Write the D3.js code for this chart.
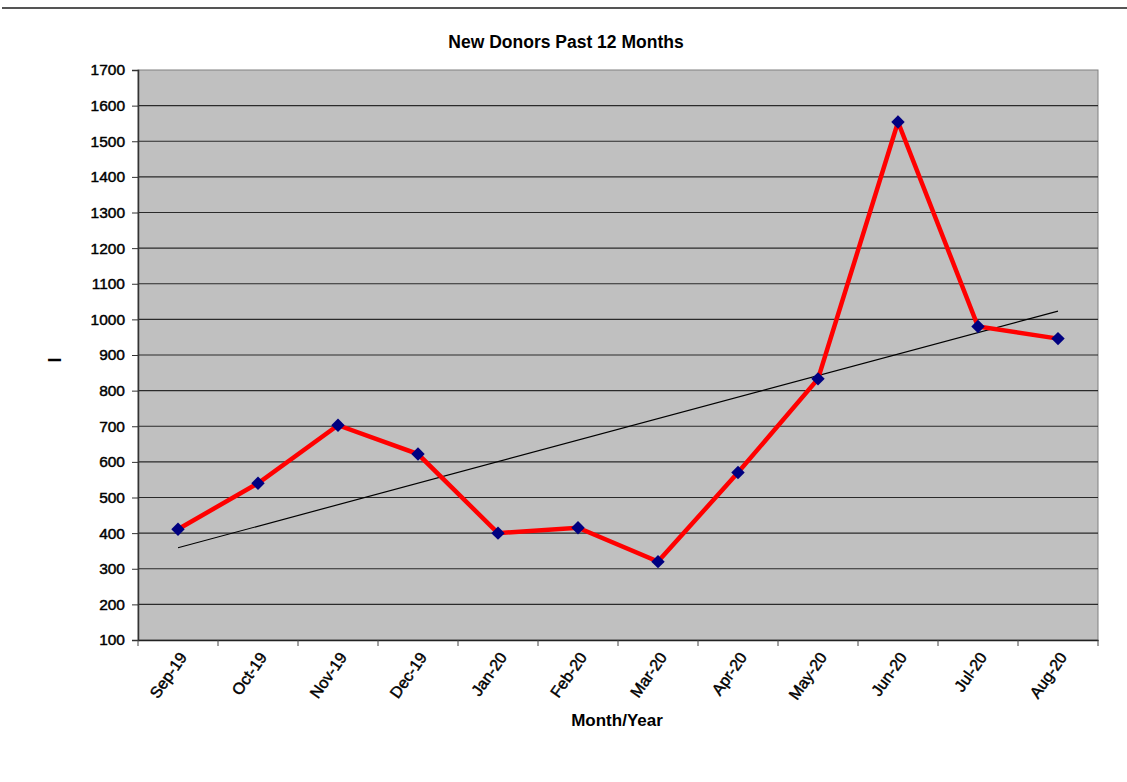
<!DOCTYPE html>
<html><head><meta charset="utf-8">
<script src="https://cdn.jsdelivr.net/npm/d3@7"></script>
<style>body{margin:0;background:#fff;}svg{display:block;font-family:"Liberation Sans",Arial,sans-serif;}</style>
</head><body>
<script>
const categories = ["Sep-19","Oct-19","Nov-19","Dec-19","Jan-20","Feb-20","Mar-20","Apr-20","May-20","Jun-20","Jul-20","Aug-20"];
const donors = [411, 540, 703, 622, 400, 415, 320, 570, 833, 1554, 980, 946];
const yTicks = [100,200,300,400,500,600,700,800,900,1000,1100,1200,1300,1400,1500,1600,1700];
const title = "New Donors Past 12 Months";
const xTitle = "Month/Year";
const yTitle = "I";

const W = 1127, H = 782;
const m = {left:138, right:1098, top:70, bottom:640};
const svg = d3.select("body").append("svg").attr("width",W).attr("height",H);

// top rule
svg.append("line").attr("x1",2).attr("x2",1127).attr("y1",8).attr("y2",8).attr("stroke","#555").attr("stroke-width",2);

const x = d3.scaleBand().domain(categories).range([m.left,m.right]).padding(0);
const y = d3.scaleLinear().domain([100,1700]).range([m.bottom,m.top]);

// plot background
svg.append("rect").attr("x",m.left).attr("y",m.top).attr("width",m.right-m.left).attr("height",m.bottom-m.top)
  .attr("fill","#c0c0c0").attr("stroke","#808080").attr("stroke-width",1);

// grid
svg.append("g").selectAll("line").data(yTicks.slice(1,-1)).join("line")
  .attr("x1",m.left).attr("x2",m.right).attr("y1",d=>y(d)).attr("y2",d=>y(d))
  .attr("stroke","#2a2a2a").attr("stroke-width",1.2);

// y axis
const yAxis = svg.append("g").attr("transform",`translate(${m.left},0)`)
  .call(d3.axisLeft(y).tickValues(yTicks).tickSize(6).tickPadding(7).tickFormat(d3.format("d")));
yAxis.select(".domain").attr("stroke","#333").attr("stroke-width",1.5);
yAxis.selectAll(".tick line").attr("stroke","#333");
yAxis.selectAll("text").attr("font-size",15.5).attr("fill","#000").attr("stroke","#000").attr("stroke-width",0.45)
  .attr("font-family","Liberation Sans, Arial, sans-serif");

// x axis
const xAxis = svg.append("g").attr("transform",`translate(0,${m.bottom})`)
  .call(d3.axisBottom(x).tickSize(0).tickPadding(0));
xAxis.select(".domain").attr("stroke","#222").attr("stroke-width",1.5);
xAxis.selectAll(".tick text")
  .attr("font-size",16).attr("fill","#000").attr("stroke","#000").attr("stroke-width",0.45)
  .attr("font-family","Liberation Sans, Arial, sans-serif")
  .attr("text-anchor","end").attr("dy","0.35em")
  .attr("transform","translate(5,14) rotate(-55)");
// boundary tick marks
const bounds = categories.map(c=>x(c)).concat([m.right]);
svg.append("g").selectAll("line").data(bounds).join("line")
  .attr("x1",d=>d).attr("x2",d=>d).attr("y1",m.bottom).attr("y2",m.bottom+6)
  .attr("stroke","#444").attr("stroke-width",1);

const cx = c => x(c) + x.bandwidth()/2;

// trendline (least squares from data)
const n = donors.length;
const mx = d3.mean(d3.range(n)), my = d3.mean(donors);
const slope = d3.sum(donors,(v,i)=>(i-mx)*(v-my)) / d3.sum(d3.range(n),i=>(i-mx)*(i-mx));
const icpt = my - slope*mx;
svg.append("line")
  .attr("x1",cx(categories[0])).attr("y1",y(icpt))
  .attr("x2",cx(categories[n-1])).attr("y2",y(icpt+slope*(n-1)))
  .attr("stroke","#000").attr("stroke-width",1.2);

// series line
svg.append("path").datum(donors)
  .attr("d",d3.line().x((v,i)=>cx(categories[i])).y(v=>y(v)))
  .attr("fill","none").attr("stroke","#ff0000").attr("stroke-width",4.5).attr("stroke-linejoin","miter");

// markers
svg.append("g").selectAll("path").data(donors).join("path")
  .attr("d",d3.symbol().type(d3.symbolDiamond2).size(115))
  .attr("transform",(v,i)=>`translate(${cx(categories[i])},${y(v)})`)
  .attr("fill","#000080");

// titles
svg.append("text").attr("x",566).attr("y",48).attr("text-anchor","middle")
  .attr("font-size",17.5).attr("font-weight","bold").text(title);
svg.append("text").attr("x",617).attr("y",726).attr("text-anchor","middle")
  .attr("font-size",17).attr("font-weight","bold").text(xTitle);
svg.append("text").attr("transform","translate(61,360) rotate(-90)").attr("text-anchor","middle")
  .attr("font-size",18).attr("font-weight","bold").text(yTitle);
</script>
</body></html>
